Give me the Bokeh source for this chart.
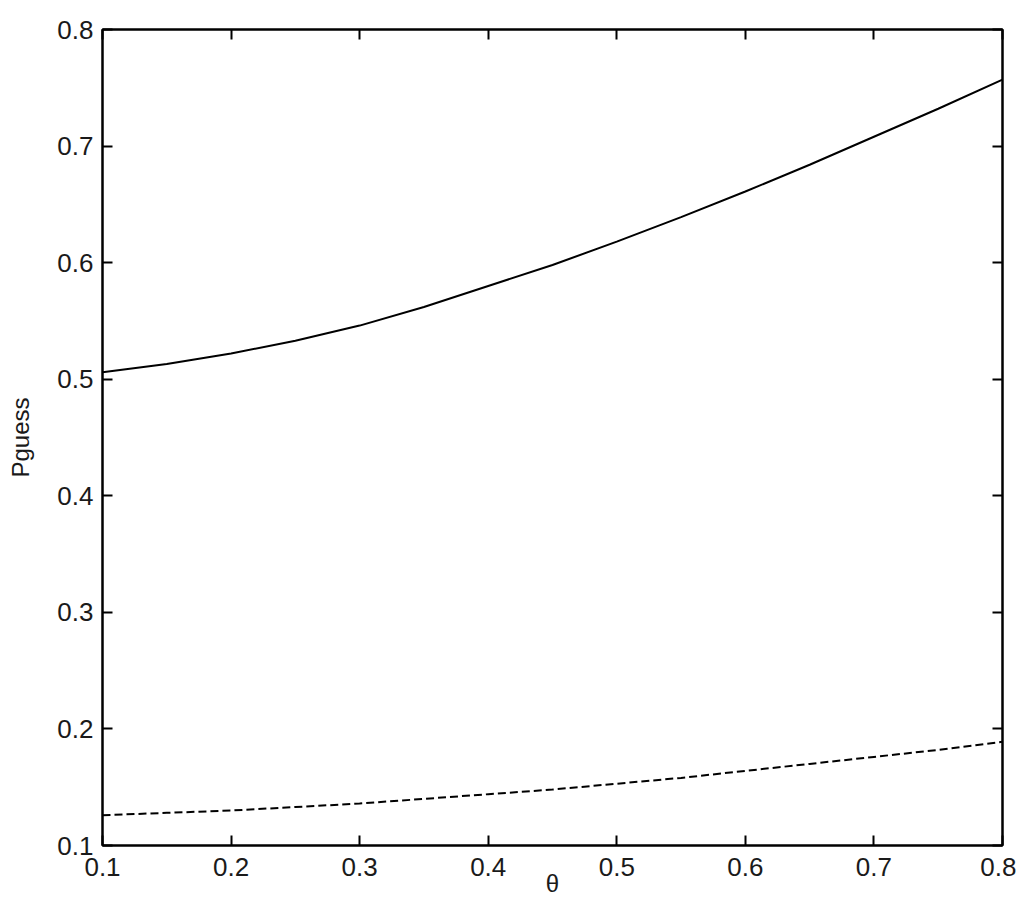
from bokeh.plotting import figure
from bokeh.models import LinearAxis, Range1d, FixedTicker, CustomJSTickFormatter
from bokeh.embed import file_html
from bokeh.resources import INLINE

# data
theta = [0.10, 0.15, 0.20, 0.25, 0.30, 0.35, 0.40, 0.45, 0.50, 0.55, 0.60, 0.65, 0.70, 0.75, 0.80]
p_solid = [0.506, 0.513, 0.522, 0.533, 0.546, 0.562, 0.580, 0.598, 0.618, 0.639, 0.661, 0.684, 0.708, 0.732, 0.757]
p_dashed = [0.126, 0.128, 0.130, 0.133, 0.136, 0.140, 0.144, 0.148, 0.153, 0.158, 0.164, 0.170, 0.176, 0.182, 0.189]
x_ticks = [0.1, 0.2, 0.3, 0.4, 0.5, 0.6, 0.7, 0.8]
y_ticks = [0.1, 0.2, 0.3, 0.4, 0.5, 0.6, 0.7, 0.8]

FONT = "Liberation Sans"
TSIZE = "26px"

p = figure(frame_width=900, frame_height=816, output_backend="svg", toolbar_location=None,
           x_range=Range1d(0.1, 0.8), y_range=Range1d(0.1, 0.8),
           min_border_left=102, min_border_top=29, min_border_right=14, min_border_bottom=60,
           x_axis_label="θ", y_axis_label="Pguess")
p.background_fill_color = "white"
p.border_fill_color = "white"
p.outline_line_color = "black"
p.outline_line_width = 2
p.xgrid.visible = False
p.ygrid.visible = False

def style(ax, labels=True):
    ax.major_tick_in = 10
    ax.major_tick_out = 0
    ax.minor_tick_line_color = None
    ax.major_tick_line_color = "black"
    ax.major_tick_line_width = 2
    ax.axis_line_color = "black"
    ax.axis_line_width = 2
    ax.major_label_text_font = FONT
    ax.major_label_text_font_size = TSIZE
    ax.major_label_text_color = "#1a1a1a"
    ax.major_label_standoff = 9
    ax.axis_label_text_font = FONT
    ax.axis_label_text_font_size = "24px"
    ax.axis_label_text_font_style = "normal"
    ax.axis_label_text_color = "#1a1a1a"
    if not labels:
        ax.formatter = CustomJSTickFormatter(code="return ''")
        ax.major_label_standoff = 0

style(p.xaxis[0])
style(p.yaxis[0])
p.xaxis[0].ticker = FixedTicker(ticks=x_ticks)
p.yaxis[0].ticker = FixedTicker(ticks=y_ticks)
p.xaxis[0].major_label_standoff = 12
p.xaxis[0].axis_label_standoff = -9
p.yaxis[0].axis_label_standoff = 20

top = LinearAxis()
right = LinearAxis()
style(top, labels=False)
style(right, labels=False)
top.ticker = FixedTicker(ticks=x_ticks)
right.ticker = FixedTicker(ticks=y_ticks)
p.add_layout(top, "above")
p.add_layout(right, "right")

p.line(theta, p_solid, line_color="black", line_width=2)
p.line(theta, p_dashed, line_color="black", line_width=2, line_dash="8 4")

open("out.html", "w").write(file_html(p, INLINE))
